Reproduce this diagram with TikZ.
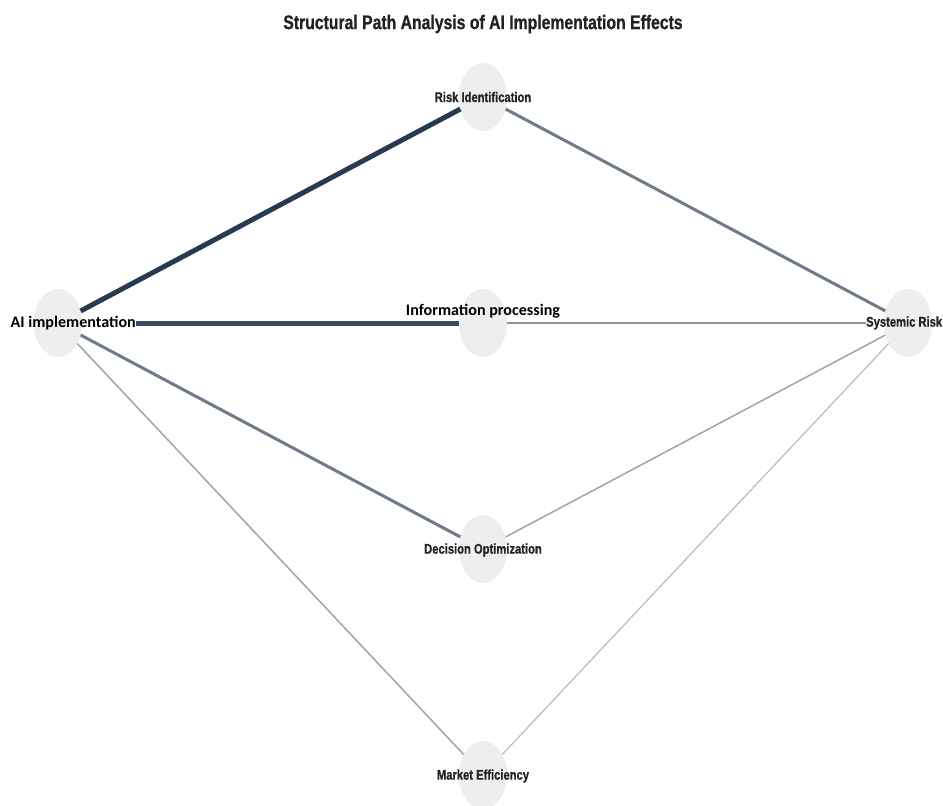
\documentclass[tikz,border=0pt]{standalone}
\usepackage{fontspec}
\setmainfont{Liberation Sans}
\newfontfamily\narrowfont[FakeStretch=0.8,FakeBold=0.8]{Liberation Sans}
\newfontfamily\calfont{Carlito}
\usetikzlibrary{shapes.geometric}
\definecolor{nodegray}{HTML}{EEEEEE}
\definecolor{edgeA}{HTML}{283A4F}
\definecolor{edgeB}{HTML}{3B4A5C}
\definecolor{edgeC}{HTML}{6F7A8A}
\definecolor{edgeD}{HTML}{8C919B}
\definecolor{edgeE}{HTML}{A0A4AC}
\definecolor{edgeF}{HTML}{B8BBC0}
\definecolor{txtdark}{HTML}{222222}
\tikzset{
  bubble/.style={ellipse, fill=nodegray, draw=none, minimum width=48pt, minimum height=68pt, inner sep=0pt},
  narrowlbl/.style={font=\narrowfont\bfseries\fontsize{14}{16}\selectfont, text=txtdark, inner sep=0pt},
  titlelbl/.style={font=\narrowfont\bfseries\fontsize{19.7}{22}\selectfont, text=txtdark, inner sep=0pt},
  callbl/.style={font=\calfont\bfseries\fontsize{16.1}{18}\selectfont, text=black, inner sep=0pt},
  wA/.style={draw=edgeA, line width=5pt},
  wB/.style={draw=edgeB, line width=5pt},
  wC/.style={draw=edgeC, line width=3pt},
  wD/.style={draw=edgeD, line width=2pt},
  wE/.style={draw=edgeE, line width=1.5pt},
  wF/.style={draw=edgeF, line width=1.2pt}
}
\begin{document}
\begin{tikzpicture}[x=1pt,y=-1pt]
\useasboundingbox (0,0) rectangle (943,806);
\fill[white] (0,0) rectangle (943,806);
% bubbles
\node[bubble] (ai) at (58,323) {};
\node[bubble] (info) at (483,323) {};
\node[bubble] (sys) at (908,323) {};
\node[bubble] (risk) at (483,97) {};
\node[bubble] (dec) at (483,549) {};
\node[bubble] (mkt) at (483,775) {};
\coordinate (aiend) at (136,323);
\coordinate (sysend) at (866,323);
% edges
\path[wA] (ai) -- (risk);
\path[wB] (aiend) -- (info);
\path[wC] (risk) -- (sys);
\path[wC] (ai) -- (dec);
\path[wD] (info) -- (sysend);
\path[wE] (ai) -- (mkt);
\path[wE] (dec) -- (sys);
\path[wF] (mkt) -- (sys);
% labels
\node[titlelbl] (title) at (483,24) {Structural Path Analysis of AI Implementation Effects};
\node[narrowlbl] (risklbl) at (483,97) {Risk Identification};
\node[narrowlbl] (declbl) at (483,550) {Decision Optimization};
\node[narrowlbl] (mktlbl) at (483,776) {Market Efficiency};
\node[narrowlbl, anchor=west] (syslbl) at (sysend) {Systemic Risk};
\node[callbl, anchor=east] (ailbl) at (aiend) {AI implementation};
\node[callbl] (infolbl) at (483,311) {Information processing};
\end{tikzpicture}
\end{document}
